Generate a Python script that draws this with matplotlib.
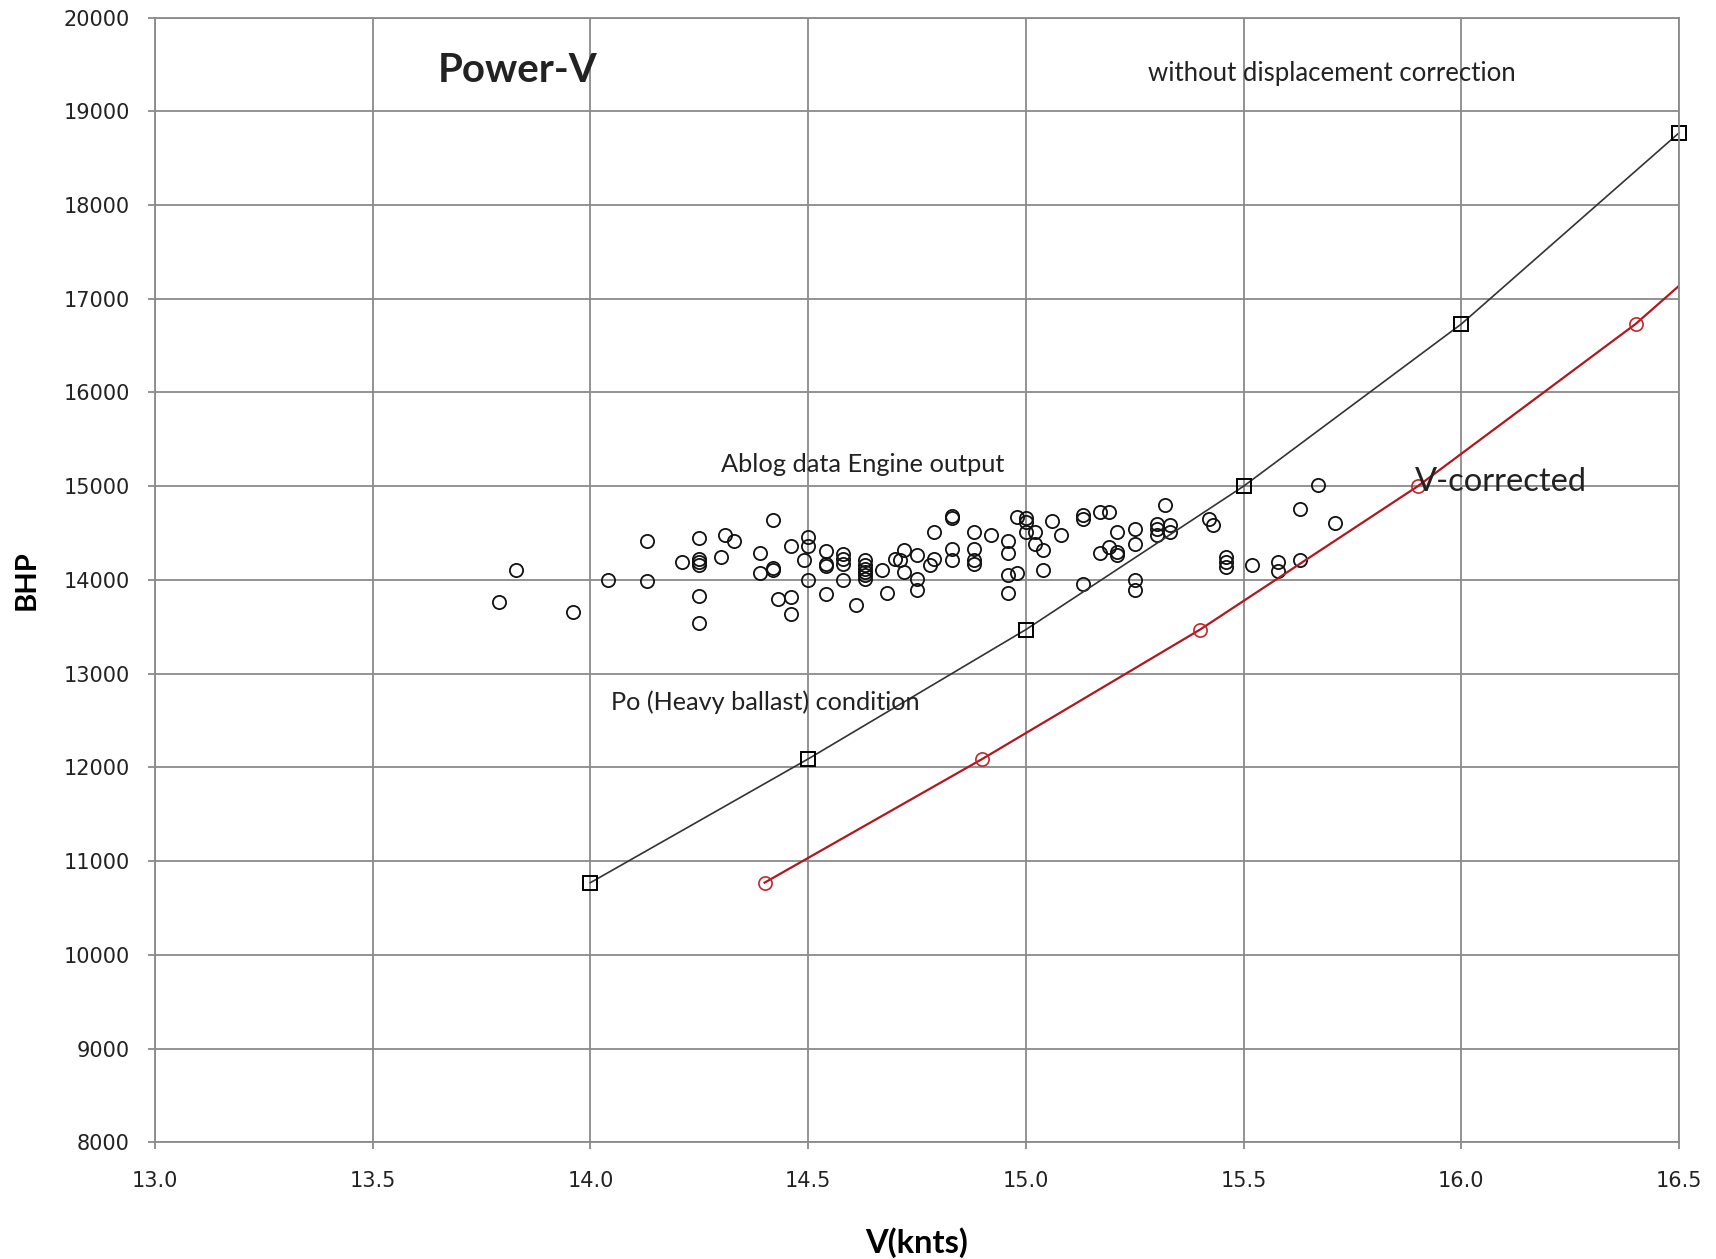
import matplotlib
matplotlib.use('Agg')
import matplotlib.pyplot as plt
import numpy as np

# Po (heavy ballast) condition curve, without displacement correction
po_v = [14.0, 14.5, 15.0, 15.5, 16.0, 16.5]
po_bhp = [10770, 12090, 13470, 15000, 16730, 18770]

# V-corrected curve (last point lies beyond the axis and gets clipped)
vc_v = [14.4, 14.9, 15.4, 15.9, 16.4, 16.9]
vc_bhp = [10770, 12090, 13470, 15000, 16730, 18770]

# Ablog data, engine output
ablog_v = [
    13.79, 13.83, 13.96, 14.04, 14.13, 14.13, 14.21, 14.25, 14.25, 14.25,
    14.25, 14.25, 14.25, 14.30, 14.31, 14.33, 14.39, 14.39, 14.42, 14.42,
    14.42, 14.43, 14.46, 14.46, 14.46, 14.50, 14.50, 14.49, 14.50, 14.54,
    14.54, 14.54, 14.54, 14.58, 14.58, 14.58, 14.58, 14.61, 14.63, 14.63,
    14.63, 14.63, 14.63, 14.63, 14.67, 14.68, 14.70, 14.71, 14.72, 14.72,
    14.75, 14.75, 14.75, 14.78, 14.79, 14.79, 14.83, 14.83, 14.83, 14.83,
    14.88, 14.88, 14.88, 14.88, 14.92, 14.96, 14.96, 14.96, 14.96, 14.98,
    14.98, 15.00, 15.00, 15.00, 15.02, 15.02, 15.04, 15.04, 15.06, 15.08,
    15.13, 15.13, 15.13, 15.17, 15.19, 15.17, 15.19, 15.21, 15.21, 15.21,
    15.25, 15.25, 15.25, 15.25, 15.30, 15.30, 15.30, 15.32, 15.33, 15.33,
    15.42, 15.43, 15.46, 15.46, 15.46, 15.52, 15.58, 15.58, 15.63, 15.63,
    15.67, 15.71,
]
ablog_bhp = [
    13762, 14108, 13662, 14004, 14413, 13986, 14196, 14445, 14228, 14189,
    14154, 13823, 13542, 14243, 14482, 14413, 14291, 14070, 14634, 14130,
    14105, 13801, 14357, 13822, 13634, 14453, 14357, 14215, 14004, 14303,
    14172, 14143, 13851, 14278, 14225, 14172, 14004, 13737, 14207, 14154,
    14118, 14082, 14047, 14012, 14108, 13858, 14225, 14215, 14314, 14082,
    14261, 14012, 13887, 14154, 14225, 14509, 14684, 14663, 14332, 14207,
    14509, 14325, 14207, 14172, 14474, 14413, 14289, 14047, 13858, 14670,
    14072, 14663, 14616, 14509, 14509, 14378, 14321, 14108, 14627, 14474,
    14688, 14652, 13951, 14723, 14723, 14285, 14349, 14509, 14296, 14261,
    14545, 14378, 14004, 13887, 14599, 14545, 14474, 14794, 14581, 14509,
    14652, 14581, 14243, 14189, 14136, 14161, 14189, 14100, 14759, 14207,
    15008, 14610,
]

x_ticks = [13.0, 13.5, 14.0, 14.5, 15.0, 15.5, 16.0, 16.5]
y_ticks = list(range(8000, 20001, 1000))

fig = plt.figure(figsize=(17.16, 12.59), dpi=100)
ax = fig.add_axes([0.0903, 0.0927, 0.8882, 0.8934])

grid_c = '#8a8a8a'
ax.set_xlim(13.0, 16.5)
ax.set_ylim(8000, 20000)
ax.set_xticks(x_ticks)
ax.set_xticklabels(['%.1f' % t for t in x_ticks])
ax.set_yticks(y_ticks)
ax.grid(True, color=grid_c, linewidth=1.3)
ax.set_axisbelow(True)
for s in ax.spines.values():
    s.set_color(grid_c)
    s.set_linewidth(1.3)
ax.tick_params(direction='out', length=5, width=1.3, color=grid_c,
               labelsize=15, labelcolor='#222222')
ax.tick_params(axis='y', pad=13)
ax.tick_params(axis='x', pad=16)

# scatter
ax.plot(ablog_v, ablog_bhp, linestyle='none', marker='o', markersize=9.5,
        markerfacecolor='none', markeredgecolor='#111111', markeredgewidth=1.3)

# curves
ax.plot(po_v, po_bhp, color='#333333', linewidth=1.2, marker='s',
        markersize=9.5, markerfacecolor='none', markeredgecolor='black',
        markeredgewidth=1.4, clip_on=False)
ax.plot(vc_v, vc_bhp, color='#b01820', linewidth=1.6, marker='o',
        markersize=9.5, markerfacecolor='none', markeredgecolor='#c0282c',
        markeredgewidth=1.2)

txt = dict(family='Lato', color='#222222', ha='left', va='center')
ax.text(13.65, 19430, 'Power-V', fontsize=29, fontweight='bold', **txt)
ax.text(15.28, 19400, 'without displacement correction', fontsize=18.5, **txt)
ax.text(14.30, 15232, 'Ablog data Engine output', fontsize=18.3, **txt)
ax.text(14.047, 12696, 'Po (Heavy ballast) condition', fontsize=18.2, **txt)
ax.text(15.894, 15045, 'V-corrected', fontsize=23.5, **txt)

ax.set_xlabel('V(knts)', family='Lato', fontsize=23.5, fontweight='bold',
              labelpad=26)
ax.set_ylabel('BHP', family='Lato', fontsize=21, fontweight='bold',
              labelpad=17)

fig.savefig('out.png', dpi=100)
